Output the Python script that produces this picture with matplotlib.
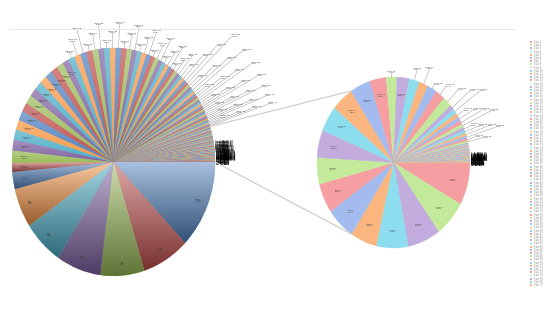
import numpy as np
import matplotlib
matplotlib.use("Agg")
import matplotlib.pyplot as plt
from matplotlib.colors import to_rgb
from matplotlib.lines import Line2D
from matplotlib.patches import ConnectionPatch, Rectangle

# main pie, slice sizes read clockwise from 3 o'clock
main_bottom = [45.0, 27.0, 25.0, 25.5, 23.0, 20.0, 8.7, 4.5]
main_upper_left = [6.3, 5.5, 5.2, 5.0, 4.8, 4.6, 4.5, 4.4, 4.2, 4.1, 4.0,
                   3.9, 3.8, 3.7, 3.6, 3.5, 3.5, 3.4, 3.4, 3.3, 3.3]
main_upper_right = [3.3, 3.2, 3.1, 3.0, 2.9, 2.8, 2.7, 2.6, 2.5, 2.4, 2.3,
                    2.2, 2.1, 2.0, 1.9, 1.8, 1.8, 1.7,
                    1.7, 1.6, 1.6, 1.5, 1.5, 1.4, 1.4, 1.3, 1.3, 1.2, 1.2,
                    1.1, 1.1, 1.0, 1.0, 1.0, 0.9, 0.9, 0.9, 0.8, 0.8, 0.8,
                    0.7, 0.7, 0.7, 0.6, 0.6]
main_tiny = [0.55, 0.55, 0.5, 0.5, 0.5, 0.5, 0.45, 0.45, 0.45, 0.45, 0.45,
             0.4, 0.4, 0.4, 0.4, 0.4, 0.4, 0.4, 0.35, 0.35, 0.35, 0.35, 0.35,
             0.35, 0.35, 0.3, 0.3, 0.3, 0.3, 0.3, 0.3, 0.3, 0.3, 0.25, 0.25,
             0.25, 0.25, 0.25, 0.25, 0.25, 0.25, 0.2, 0.2, 0.2, 0.2, 0.2, 0.2,
             0.2, 0.2, 0.2, 0.15, 0.15, 0.15, 0.15, 0.15, 0.1, 0.1, 0.1, 0.1, 0.1]
main_values = main_bottom + main_upper_left + main_upper_right + main_tiny
main_names = [f"Item {i + 1}" for i in range(len(main_values))]

# second pie (breakdown), also clockwise from 3 o'clock
sub_big = [29.0, 24.7, 25.0, 24.0, 20.0, 22.0, 20.0, 18.0, 18.6, 17.6, 16.6,
           15.5, 12.5, 8.0, 9.4, 7.7, 7.0, 7.0, 7.5, 7.0]
sub_mid = [3.4, 3.2, 3.0, 2.8, 2.6, 2.4, 2.2, 2.0, 1.9, 1.8, 1.6, 1.4]
sub_tiny = [0.6, 0.55, 0.5, 0.5, 0.5, 0.45, 0.45, 0.45, 0.4, 0.4, 0.4, 0.4,
            0.35, 0.35, 0.35, 0.35, 0.35, 0.3, 0.3, 0.3, 0.3, 0.3, 0.3, 0.25,
            0.25, 0.25, 0.25, 0.25, 0.25, 0.2, 0.2, 0.2, 0.2, 0.2, 0.2, 0.2,
            0.15, 0.15, 0.15, 0.15, 0.15, 0.1, 0.1, 0.1, 0.1]
sub_values = sub_big + sub_mid + sub_tiny
sub_names = [f"Sub {i + 1}" for i in range(len(sub_values))]

main_colors = ['#4F81BD', '#C0504D', '#9BBB59', '#8064A2', '#4BACC6', '#F79646']
sub_colors = ['#F59FA2', '#C3EA9B', '#C2ABDD', '#8CDDEE', '#FBB680', '#A3BBEE']

W, H = 550, 312


def fig_box(x0, y0, x1, y1):
    return [x0 / W, 1 - y1 / H, (x1 - x0) / W, (y1 - y0) / H]


def mix(c, other, f):
    c = np.array(to_rgb(c))
    return tuple(c + (np.array(other) - c) * f)


fig = plt.figure(figsize=(5.5, 3.12), dpi=100)
fig.add_artist(Line2D([10 / W, 515 / W], [1 - 29 / H] * 2, color='#e8e8e8', lw=0.7))

ax1 = fig.add_axes(fig_box(12, 48, 215, 276))
ax2 = fig.add_axes(fig_box(317, 77, 470, 248))

# ---- main pie with Excel-like per-slice gradient
cols1 = [mix(main_colors[i % 6], (1, 1, 1), 0.2) for i in range(len(main_values))]
wedges1, _ = ax1.pie(main_values, colors=cols1, startangle=0, counterclock=False,
                     wedgeprops=dict(linewidth=0.25))
grad = np.linspace(0, 1, 64)[:, None, None]
for i, w in enumerate(wedges1):
    w.set_edgecolor(cols1[i])
    span = w.theta2 - w.theta1
    if span < 1.0:
        continue
    mid = ((w.theta1 + w.theta2) / 2) % 360
    base = main_colors[i % 6]
    if mid > 180:
        top = np.array(mix(base, (1, 1, 1), 0.5))
        bot = np.array(mix(base, (0, 0, 0), 0.38))
    else:
        top = np.array(mix(base, (1, 1, 1), 0.3))
        bot = np.array(mix(base, (0, 0, 0), 0.0))
    img = top * (1 - grad) + bot * grad
    bb = w.get_path().get_extents()
    im = ax1.imshow(img, extent=(bb.x0, bb.x1, bb.y0, bb.y1), aspect='auto',
                    interpolation='bilinear', zorder=1.5)
    im.set_clip_path(w)

tot1 = sum(main_values)
k_out = k_tiny = 0
for i, w in enumerate(wedges1):
    span = w.theta2 - w.theta1
    mid = ((w.theta1 + w.theta2) / 2) % 360
    t = np.deg2rad(mid)
    pct = main_values[i] / tot1
    if span >= 12:
        ax1.text(0.9 * np.cos(t), 0.9 * np.sin(t), f"{pct:.0%}", fontsize=2.2,
                 color='#333333', ha='center', va='center', zorder=3)
    elif span >= 3.7:
        ax1.text(0.88 * np.cos(t), 0.88 * np.sin(t), f"{main_names[i]}\n{pct:.1%}",
                 fontsize=1.7, color='#333333', ha='center', va='center', zorder=3)
    elif span >= 0.6:
        if mid > 50:
            r = 1.05 + 0.08 * (k_out % 3)
        else:
            r = 1.12 + 0.16 * (k_out % 4)
        ax1.plot([np.cos(t), r * np.cos(t)], [np.sin(t), r * np.sin(t)],
                 color='#8a8a8a', lw=0.3, clip_on=False)
        ax1.text(r * np.cos(t), r * np.sin(t), f"{main_names[i]}\n{pct:.1%}",
                 fontsize=1.7, color='#333333', ha='center' if mid > 50 else 'left',
                 va='bottom', clip_on=False)
        k_out += 1
    else:
        a = np.deg2rad(mid * 0.5)
        r = 1.01 + 0.04 * (k_tiny % 3)
        ax1.text(r * np.cos(a), r * np.sin(a), f"{main_names[i]}\n{pct:.1%}",
                 fontsize=1.8, color='#000000', ha='left', va='center', clip_on=False)
        k_tiny += 1

ax1.set_xlim(-1, 1)
ax1.set_ylim(-1, 1)
ax1.set_aspect('auto')
ax1.axis('off')

# ---- second pie
cols2 = [sub_colors[i % 6] for i in range(len(sub_values))]
wedges2, _ = ax2.pie(sub_values, colors=cols2, startangle=0, counterclock=False,
                     wedgeprops=dict(linewidth=0.25))
tot2 = sum(sub_values)
k_out = k_tiny = 0
for i, w in enumerate(wedges2):
    w.set_edgecolor(cols2[i])
    span = w.theta2 - w.theta1
    mid = ((w.theta1 + w.theta2) / 2) % 360
    t = np.deg2rad(mid)
    pct = sub_values[i] / tot2
    if span >= 9:
        ax2.text(0.8 * np.cos(t), 0.8 * np.sin(t), f"{sub_names[i]}\n{pct:.1%}",
                 fontsize=1.7, color='#333333', ha='center', va='center', zorder=3)
    elif span >= 1.0:
        if mid > 42:
            r = 1.05 + 0.07 * (k_out % 3)
        else:
            r = 1.1 + 0.1 * (k_out % 4)
        ax2.plot([np.cos(t), r * np.cos(t)], [np.sin(t), r * np.sin(t)],
                 color='#8a8a8a', lw=0.3, clip_on=False)
        ax2.text(r * np.cos(t), r * np.sin(t), f"{sub_names[i]}\n{pct:.1%}",
                 fontsize=1.7, color='#333333', ha='center' if mid > 60 else 'left',
                 va='bottom', clip_on=False)
        k_out += 1
    else:
        a = np.deg2rad(mid * 0.3)
        r = 1.01 + 0.05 * (k_tiny % 3)
        ax2.text(r * np.cos(a), r * np.sin(a), f"{sub_names[i]}\n{pct:.1%}",
                 fontsize=1.8, color='#000000', ha='left', va='center', clip_on=False)
        k_tiny += 1

ax2.set_xlim(-1, 1)
ax2.set_ylim(-1, 1)
ax2.set_aspect('auto')
ax2.axis('off')

# ---- connector lines between the "other" slice and the second pie
a_top = np.deg2rad(360 * sum(main_tiny) / tot1)
for a1, a2 in [(a_top, np.deg2rad(123)), (0.0, np.deg2rad(-123))]:
    con = ConnectionPatch(xyA=(np.cos(a1), np.sin(a1)), coordsA=ax1.transData,
                          xyB=(np.cos(a2), np.sin(a2)), coordsB=ax2.transData,
                          color='#cfcfcf', lw=0.9)
    fig.add_artist(con)

# ---- legend column on the right
n = len(sub_names)
step = (285 - 42) / (n - 1)
for i, name in enumerate(sub_names):
    y = 1 - (42 + i * step) / H
    fig.add_artist(Rectangle((530 / W, y - 0.9 / H), 1.8 / W, 1.8 / H,
                             transform=fig.transFigure, color=cols2[i], lw=0))
    fig.text(533.5 / W, y, name, fontsize=1.8, color='#8c8c8c', va='center', ha='left')

fig.savefig('out.png', dpi=100)
